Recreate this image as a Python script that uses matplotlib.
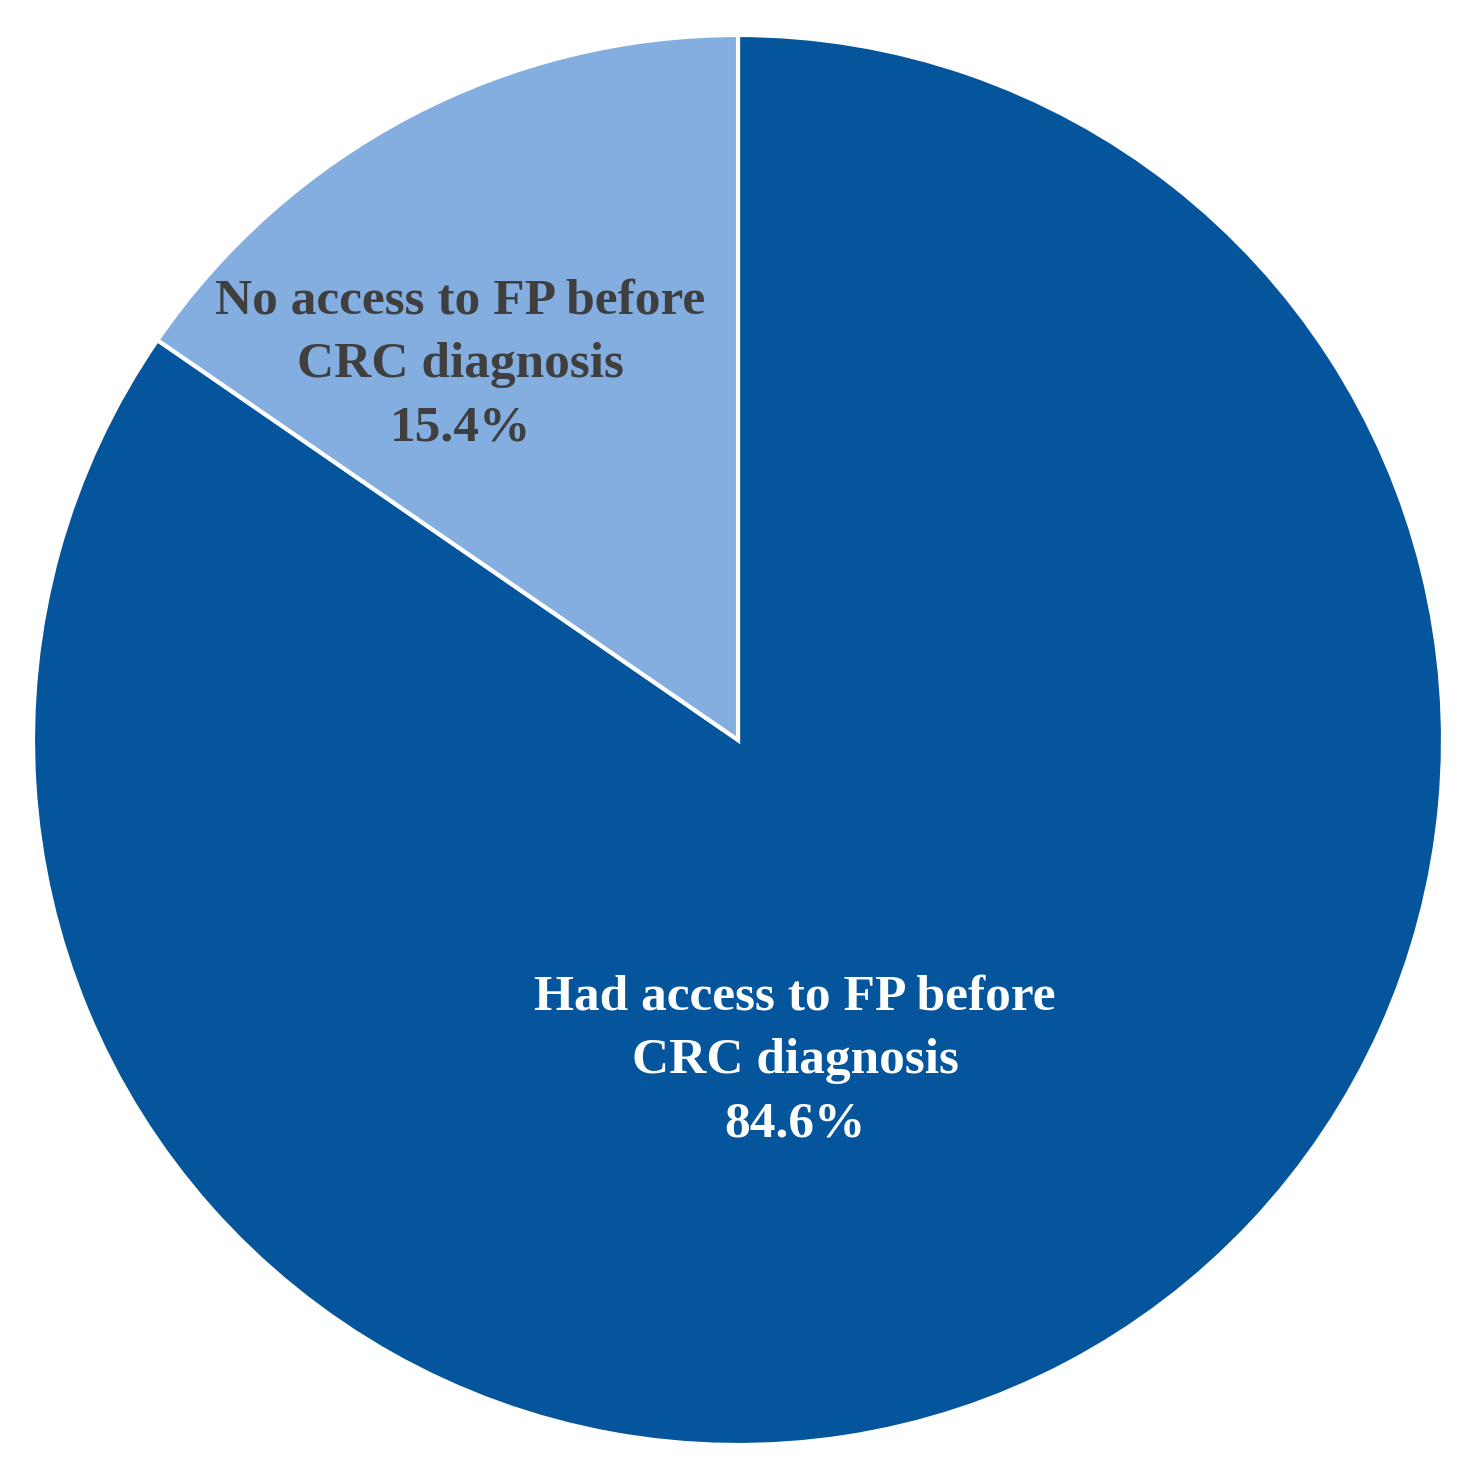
import matplotlib
matplotlib.use("Agg")
import matplotlib.pyplot as plt

labels = ["Had access to FP before\nCRC diagnosis", "No access to FP before\nCRC diagnosis"]
shares = [84.6, 15.4]
colors = ["#04559C", "#84ADE0"]
text_colors = ["white", "#3F3F3F"]
# label centres in data units (pie radius = 1)
label_pos = [(0.081, -0.455), (-0.394, 0.532)]

fig = plt.figure(figsize=(14.65, 14.76), dpi=100)
ax = fig.add_axes([0, 0, 1, 1])
ax.pie(shares, colors=colors, startangle=90, counterclock=False,
       radius=1.0, wedgeprops=dict(edgecolor="white", linewidth=3))
ax.set_xlim(-738 / 705, (1465 - 738) / 705)
ax.set_ylim(-736 / 705, (1476 - 736) / 705)
ax.set_aspect("auto")
ax.axis("off")

for lab, val, (x, y), c in zip(labels, shares, label_pos, text_colors):
    ax.text(x, y, f"{lab}\n{val:.1f}%", ha="center", va="center",
            fontsize=37, fontweight="bold", family="Liberation Serif",
            color=c, linespacing=1.5)

fig.savefig("out.png", dpi=100, facecolor="white")
